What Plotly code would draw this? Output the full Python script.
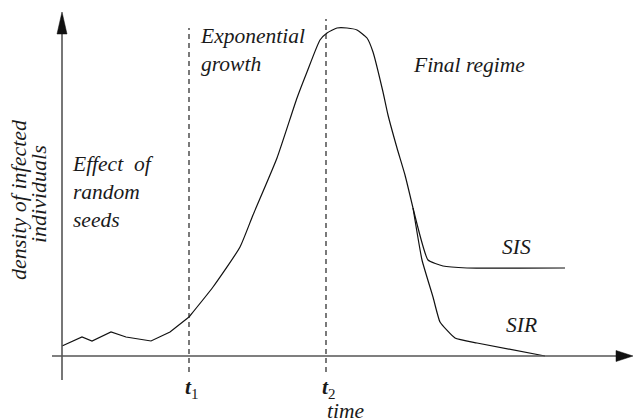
import plotly.graph_objects as go

# Schematic data (time units / density units, origin at axes crossing)
time_common = [0, 20, 30, 49, 64, 89, 108, 127, 151, 178, 191, 215, 235, 245, 258, 265,
               275, 285, 295, 305, 311, 321, 326, 335, 343, 351]
dens_common = [10, 19, 15, 24, 19, 15, 24, 39, 69, 109, 141, 198, 258, 284, 316, 323,
               328, 328, 326, 318, 304, 264, 241, 208, 181, 148]
time_sis = [351, 366, 381, 405, 503]
dens_sis = [148, 96, 90, 88, 88]
time_sir = [351, 360, 371, 378, 393, 415, 483]
dens_sir = [148, 96, 59, 34, 18, 13, 0]
t_marks = [127, 264]
t_mark_top = [328, 337]
t_labels = ["<b><i>t</i></b><sub>1</sub>", "<b><i>t</i></b><sub>2</sub>"]

X_RANGE = [-62, 572]
Y_RANGE = [-64, 356]
AX_COL = "#555555"
LINE_COL = "#111111"
FONT = "Liberation Serif"
NOISY = 7  # first points are the jagged random-seed phase

fig = go.Figure()

fig.add_trace(go.Scatter(x=time_common[:NOISY + 1], y=dens_common[:NOISY + 1], mode="lines",
                         line=dict(color=LINE_COL, width=1.2), hoverinfo="skip"))
fig.add_trace(go.Scatter(x=time_common[NOISY:], y=dens_common[NOISY:], mode="lines",
                         line=dict(color=LINE_COL, width=1.2, shape="spline", smoothing=0.5),
                         hoverinfo="skip"))
for tx, dy in [(time_sis, dens_sis), (time_sir, dens_sir)]:
    fig.add_trace(go.Scatter(x=tx, y=dy, mode="lines",
                             line=dict(color=LINE_COL, width=1.2, shape="spline", smoothing=0.4),
                             hoverinfo="skip"))

shapes = []
# axes
shapes.append(dict(type="line", xref="x", yref="y", x0=0, x1=0, y0=-24, y1=330,
                   line=dict(color=AX_COL, width=1.6)))
shapes.append(dict(type="line", xref="x", yref="y", x0=-10, x1=560, y0=0, y1=0,
                   line=dict(color=AX_COL, width=1.6)))
# arrow heads
shapes.append(dict(type="path", xref="x", yref="y", path="M 0,344 L -5,322 L 5,322 Z",
                   fillcolor="#111111", line=dict(color="#111111", width=0.5)))
shapes.append(dict(type="path", xref="x", yref="y", path="M 571,0 L 554,-5.5 L 554,5.5 Z",
                   fillcolor="#111111", line=dict(color="#111111", width=0.5)))
# dashed time markers
for tm, top in zip(t_marks, t_mark_top):
    shapes.append(dict(type="line", xref="x", yref="y", x0=tm, x1=tm, y0=-16, y1=top,
                       line=dict(color="#222222", width=1.2, dash="5px,4px")))

fig.update_layout(shapes=shapes)

ital = dict(family=FONT, size=21.5, color="#1a1a1a", style="italic")

def ann(text, x, y, xanchor="left", font=ital, **kw):
    fig.add_annotation(text=text, x=x, y=y, xref="x", yref="y", showarrow=False,
                       xanchor=xanchor, yanchor="middle", align="left", font=font, **kw)

ann("Exponential<br>growth", 136, 306)
ann("Effect  of<br>random<br>seeds", 8, 164)
ann("Final regime", 349, 291)
ann("SIS", 454, 109, xanchor="center")
ann("SIR", 459, 31, xanchor="center")
ann("time", 283, -55, xanchor="center")
upr = dict(family=FONT, size=21.5, color="#1a1a1a")
for tm, lab in zip(t_marks, t_labels):
    ann(lab, tm + 3, -32, xanchor="center", font=upr)

ylab = dict(family=FONT, size=22, color="#1a1a1a", style="italic")
ann("density of infected", -44, 156, xanchor="center", font=ylab, textangle=-90)
ann("individuals", -24, 162, xanchor="center", font=ylab, textangle=-90)

fig.update_layout(
    width=634, height=420,
    margin=dict(l=0, r=0, t=0, b=0),
    paper_bgcolor="white", plot_bgcolor="white",
    xaxis=dict(range=X_RANGE, visible=False, fixedrange=True),
    yaxis=dict(range=Y_RANGE, visible=False, fixedrange=True),
    showlegend=False,
)

fig.write_html("out.html", config={"displayModeBar": False, "staticPlot": True},
               post_script="document.body.style.margin='0';")
